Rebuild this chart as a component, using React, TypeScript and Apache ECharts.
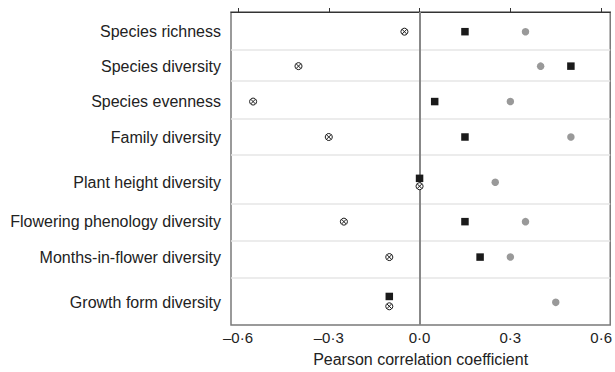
import React, { useEffect, useRef } from "react";
import * as echarts from "echarts";

const categories = [
  "Species richness",
  "Species diversity",
  "Species evenness",
  "Family diversity",
  "Plant height diversity",
  "Flowering phenology diversity",
  "Months-in-flower diversity",
  "Growth form diversity",
];
// row position (top-down units of the vertical scale)
const rowPos = [20, 55, 91, 127, 173, 213, 249, 295];
const separators = [38, 70, 108, 145, 195, 232, 270];
// vertical nudges used where markers overlap
const squareOffset = [0, 0, 0, 0, -4, 0, 0, -6];
const crossOffset = [0, 0, 0, 0, 4, 0, 0, 4];

const squareValues = [0.15, 0.5, 0.05, 0.15, 0.0, 0.15, 0.2, -0.1];
const circleValues = [0.35, 0.4, 0.3, 0.5, 0.25, 0.35, 0.3, 0.45];
const crossValues = [-0.05, -0.4, -0.55, -0.3, 0.0, -0.25, -0.1, -0.1];

const xTicks = [-0.6, -0.3, 0, 0.3, 0.6];

const fmtX = (v: number) =>
  (v < -1e-9 ? "\u2013" : "") + Math.abs(v).toFixed(1).replace(".", "\u00b7");

const crossSymbol =
  "path://M50,2 A48,48 0 1,1 49.99,2 Z M16,16 L84,84 M84,16 L16,84";

export default function App() {
  const ref = useRef<HTMLDivElement>(null);
  useEffect(() => {
    if (!ref.current) return;
    const chart = echarts.init(ref.current, undefined, { renderer: "svg" });
    const font = "Liberation Sans, Arial, Helvetica, sans-serif";
    chart.setOption({
      animation: false,
      grid: {
        left: 231,
        top: 12,
        right: 3,
        bottom: 42,
        show: true,
        borderColor: "#7a7a7a",
        borderWidth: 1.5,
        backgroundColor: "transparent",
      },
      xAxis: {
        type: "value",
        min: -0.623,
        max: 0.63,
        name: "Pearson correlation coefficient",
        nameLocation: "middle",
        nameGap: 26,
        nameTextStyle: { color: "#222", fontSize: 16, fontFamily: font },
        axisLine: { show: true, lineStyle: { color: "#333", width: 1 } },
        axisTick: {
          show: true,
          inside: true,
          length: 4,
          customValues: xTicks,
          lineStyle: { color: "#333" },
        },
        axisLabel: {
          customValues: xTicks,
          formatter: (v: number) => fmtX(v),
          color: "#222",
          fontSize: 15,
          fontFamily: font,
          margin: 5,
        },
        splitLine: { show: false },
      },
      yAxis: {
        type: "value",
        inverse: true,
        min: 0,
        max: 318,
        axisLine: { show: false },
        axisTick: { show: false },
        splitLine: { show: false },
        axisLabel: {
          customValues: rowPos,
          formatter: (v: number) => {
            const i = rowPos.findIndex((p) => Math.abs(p - v) < 0.5);
            return i >= 0 ? categories[i] : "";
          },
          color: "#222",
          fontSize: 16,
          fontFamily: font,
          margin: 10,
        },
      },
      series: [
        {
          type: "scatter",
          name: "lines",
          data: [],
          silent: true,
          markLine: {
            silent: true,
            symbol: "none",
            label: { show: false },
            lineStyle: { color: "#e6e6e6", width: 1.5, type: "solid" },
            data: separators.map((s) => ({ yAxis: s })),
          },
        },
        {
          type: "scatter",
          name: "zero",
          data: [],
          silent: true,
          z: 3,
          markLine: {
            silent: true,
            symbol: "none",
            label: { show: false },
            lineStyle: { color: "#888", width: 2, type: "solid" },
            data: [{ xAxis: 0 }],
          },
        },
        {
          type: "scatter",
          name: "circle",
          symbol: "circle",
          symbolSize: 7.5,
          z: 4,
          itemStyle: { color: "#999", opacity: 1 },
          data: circleValues.map((v, i) => [v, rowPos[i]]),
        },
        {
          type: "scatter",
          name: "square",
          symbol: "rect",
          symbolSize: 7.5,
          z: 5,
          itemStyle: { color: "#1a1a1a", opacity: 1 },
          data: squareValues.map((v, i) => [v, rowPos[i] + squareOffset[i]]),
        },
        {
          type: "scatter",
          name: "cross",
          symbol: crossSymbol,
          symbolSize: 7,
          z: 6,
          itemStyle: {
            color: "#fff",
            borderColor: "#1a1a1a",
            borderWidth: 1,
            opacity: 1,
          },
          data: crossValues.map((v, i) => [v, rowPos[i] + crossOffset[i]]),
        },
      ],
    });
    return () => chart.dispose();
  }, []);
  return <div ref={ref} style={{ width: 615, height: 372, position: "absolute", left: 0, top: 0 }} />;
}
